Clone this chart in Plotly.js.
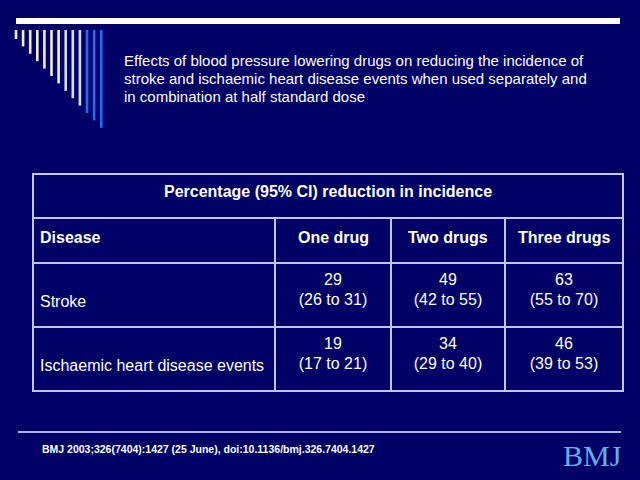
<!DOCTYPE html>
<html>
<head>
<meta charset="utf-8">
<script src="https://cdn.plot.ly/plotly-3.0.1.min.js"></script>
<style>html,body{margin:0;padding:0;background:#000066;}#chart{width:640px;height:480px;}</style>
</head>
<body>
<div id="chart"></div>
<script>
// ---- data ----
const titleLines = [
  "Effects of blood pressure lowering drugs on reducing the incidence of",
  "stroke and ischaemic heart disease events when used separately and",
  "in combination at half standard dose"
];
const tableHeader = "Percentage (95% CI) reduction in incidence";
const firstColumnHeader = "Disease";
const drugColumns = ["One drug", "Two drugs", "Three drugs"];
const diseases = ["Stroke", "Ischaemic heart disease events"];
const reduction = [[29, 49, 63], [19, 34, 46]];
const ciLower = [[26, 42, 55], [17, 29, 39]];
const ciUpper = [[31, 55, 70], [21, 40, 53]];
const citation = "BMJ 2003;326(7404):1427 (25 June), doi:10.1136/bmj.326.7404.1427";
const logoText = "BMJ";

// ---- layout constants (page geometry) ----
const colEdges = [33, 275, 391, 505, 623];
const rowEdges = [174, 218, 263, 327, 391];
const lineCol = '#c4c4f0';
const font = 'Liberation Sans, Arial, sans-serif';

const shapes = [];
// top bar
shapes.push({type:'rect', xref:'x', yref:'y', x0:16, x1:620, y0:18, y1:24, fillcolor:'#ffffff', line:{width:0}});
// decorative stripes
const nStripes = 13;
for (let i = 0; i < nStripes; i++) {
  const x = 16 + i * 7.1;
  let c = '#f2efdc';
  if (i >= 7) c = '#d8e0ff';
  if (i >= 10) c = '#1f6cf5';
  shapes.push({type:'rect', xref:'x', yref:'y', x0:x - 1.3, x1:x + 1.3, y0:30, y1:39 + i * 7.4, fillcolor:c, line:{width:0}});
}
// table grid
const L = colEdges[0], R = colEdges[colEdges.length - 1];
const T = rowEdges[0], B = rowEdges[rowEdges.length - 1];
shapes.push({type:'rect', xref:'x', yref:'y', x0:L, x1:R, y0:T, y1:B, line:{color:lineCol, width:2}});
for (let r = 1; r < rowEdges.length - 1; r++) {
  shapes.push({type:'line', xref:'x', yref:'y', x0:L, x1:R, y0:rowEdges[r], y1:rowEdges[r], line:{color:lineCol, width:2}});
}
for (let c = 1; c < colEdges.length - 1; c++) {
  shapes.push({type:'line', xref:'x', yref:'y', x0:colEdges[c], x1:colEdges[c], y0:rowEdges[1], y1:B, line:{color:lineCol, width:2}});
}
// bottom rule
shapes.push({type:'line', xref:'x', yref:'y', x0:18, x1:621, y0:432, y1:432, line:{color:'#b4b4e8', width:2}});

const annotations = [];
// title, one line each for tight line spacing
titleLines.forEach((t, k) => {
  annotations.push({xref:'x', yref:'y', x:122, y:60 + k * 18, xanchor:'left', yanchor:'middle', align:'left', showarrow:false,
    text:t, font:{family:font, size:15, color:'#ffffff'}});
});
// table header
annotations.push({xref:'x', yref:'y', x:(L + R) / 2, y:191, xanchor:'center', yanchor:'middle', showarrow:false,
  text:'<b>' + tableHeader + '</b>', font:{family:font, size:16, color:'#ffffff'}});
annotations.push({xref:'x', yref:'y', x:38, y:237, xanchor:'left', yanchor:'middle', showarrow:false,
  text:'<b>' + firstColumnHeader + '</b>', font:{family:font, size:16, color:'#ffffff'}});
drugColumns.forEach((d, j) => {
  annotations.push({xref:'x', yref:'y', x:(colEdges[j + 1] + colEdges[j + 2]) / 2, y:237, xanchor:'center', yanchor:'middle', showarrow:false,
    text:'<b>' + d + '</b>', font:{family:font, size:16, color:'#ffffff'}});
});
// disease labels (aligned with the second text line of each row)
const rowTextY = [291, 355];
diseases.forEach((d, i) => {
  annotations.push({xref:'x', yref:'y', x:38, y:rowTextY[i] + 10, xanchor:'left', yanchor:'middle', showarrow:false,
    text:d, font:{family:font, size:16, color:'#ffffff'}});
});
// citation and logo
annotations.push({xref:'x', yref:'y', x:40, y:449, xanchor:'left', yanchor:'middle', showarrow:false,
  text:'<b>' + citation + '</b>', font:{family:font, size:10.5, color:'#ffffff'}});
annotations.push({xref:'x', yref:'y', x:592, y:455, xanchor:'center', yanchor:'middle', showarrow:false,
  text:logoText, font:{family:'Liberation Serif, Times New Roman, serif', size:30, color:'#5fb0ec'}});

// value cells as a text trace
const vx = [], vy = [], vt = [];
diseases.forEach((d, i) => {
  drugColumns.forEach((c, j) => {
    vx.push((colEdges[j + 1] + colEdges[j + 2]) / 2);
    vy.push(rowTextY[i]);
    vt.push(reduction[i][j] + '<br>(' + ciLower[i][j] + ' to ' + ciUpper[i][j] + ')');
  });
});

const trace = {type:'scatter', mode:'text', x:vx, y:vy, text:vt, textposition:'middle center',
  textfont:{family:font, size:16, color:'#ffffff'}, hoverinfo:'skip', showlegend:false};

const layout = {
  width:640, height:480,
  margin:{l:0, r:0, t:0, b:0},
  paper_bgcolor:'#000066', plot_bgcolor:'#000066',
  xaxis:{range:[0, 640], visible:false, fixedrange:true},
  yaxis:{range:[480, 0], visible:false, fixedrange:true},
  shapes:shapes, annotations:annotations, showlegend:false
};
Plotly.newPlot('chart', [trace], layout, {staticPlot:true, displayModeBar:false});
</script>
</body>
</html>
